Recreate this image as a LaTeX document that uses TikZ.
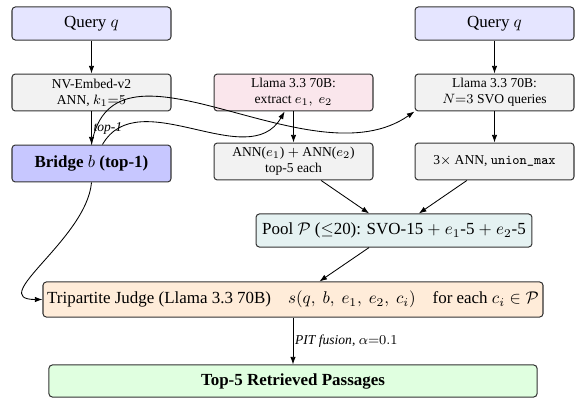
\documentclass[tikz,border=0pt]{standalone}
\usepackage{amsmath}
\usepackage{amssymb}
\usepackage{fontspec}
\setmainfont{Liberation Serif}
\usetikzlibrary{arrows.meta,positioning}
\definecolor{extractpink}{RGB}{250,230,236}

\begin{document}
\begin{tikzpicture}[x=0.59pt, y=-0.59pt,
        >={Latex[length=4.5pt,width=3.2pt]},
        box/.style = {draw=black!80, semithick, rounded corners=2pt, align=center, inner sep=2pt},
        querybox/.style = {box, fill=blue!10, minimum width=93.8pt, minimum height=19.5pt},
        stepbox/.style = {box, fill=gray!10, font=\footnotesize, minimum width=93.8pt, minimum height=21.8pt},
        link/.style = {->, line width=0.5pt}]
    \useasboundingbox (0,0) rectangle (576,398);
    % dense branch
    \node [querybox] (qleft) at (91.5,23.5) {Query $q$};
    \node [stepbox] (nvembed) at (91.5,92.5) {NV-Embed-v2\\ANN, $k_1{=}5$};
    \node [box, fill=blue!22, minimum width=93.8pt, minimum height=21.8pt] (bridge) at (91.5,163.5)
        {\textbf{Bridge $b$ (top-1)}};
    % entity branch
    \node [stepbox, fill=extractpink] (extract) at (293.5,92.5) {Llama 3.3 70B:\\extract $e_1,\ e_2$};
    \node [stepbox] (annent) at (293.5,161.5) {ANN($e_1$) $+$ ANN($e_2$)\\top-5 each};
    % SVO branch
    \node [querybox] (qright) at (494.5,23.5) {Query $q$};
    \node [stepbox] (svo) at (494.5,92.5) {Llama 3.3 70B:\\$N{=}3$ SVO queries};
    \node [stepbox] (annsvo) at (494.5,161.5) {3$\times$ ANN, \texttt{union\_max}};
    % pool, judge, output
    \node [box, fill=teal!10, minimum width=162.8pt, minimum height=19.5pt] (pool) at (394,230.5)
        {Pool $\mathcal{P}$ ($\leq$20): SVO-15 $+$ $e_1$-5 $+$ $e_2$-5};
    \node [box, fill=orange!15, minimum width=295pt, minimum height=20.7pt] (judge) at (293,299.5)
        {Tripartite Judge (Llama 3.3 70B)\quad $s(q,\ b,\ e_1,\ e_2,\ c_i)$\quad for each $c_i \in \mathcal{P}$};
    \node [box, fill=green!12, minimum width=288pt, minimum height=18.9pt] (top) at (293,381)
        {\textbf{Top-5 Retrieved Passages}};

    \draw [link] (qleft) -- (nvembed);
    \draw [link] (nvembed) -- node [right, font=\footnotesize\itshape, inner sep=1pt] {top-1} (bridge);
    \draw [link] (qright) -- (svo);
    \draw [link] (svo) -- (annsvo);
    \draw [link] (extract) -- (annent);
    \draw [link] (annent) -- (pool);
    \draw [link] (annsvo) -- (pool);
    \draw [link] (pool) -- (judge);
    \draw [link] (judge) -- node [right, font=\footnotesize, inner sep=1pt] {\textit{PIT fusion}, $\alpha{=}0.1$} (top);
    % bridge feeds the other branches
    \draw [link] (bridge.north) to [out=80, in=215] (svo.south west);
    \draw [link] (bridge.60) to [out=60, in=240] (extract.245);
    \draw [link] (bridge.south) to [out=-95, in=180, looseness=1.15] (judge.west);
\end{tikzpicture}
\end{document}
